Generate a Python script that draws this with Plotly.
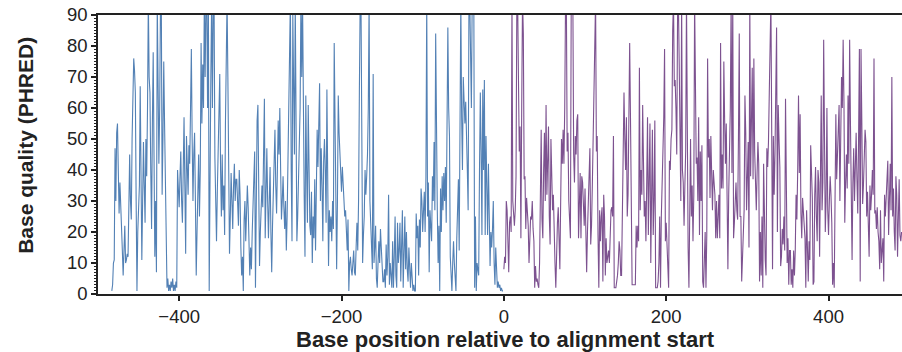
import plotly.graph_objects as go

# Base positions start values (relative to alignment start)
blue_start = -483
purple_start = 0

# PHRED base quality, upstream (blue) segment, one value per base from -483 to -1
blue_quality = [
    1, 3, 10, 11, 47, 30, 52, 55, 40, 26, 36, 30, 20, 14, 6, 18, 22, 10, 11, 13,
    12, 28, 45, 30, 24, 50, 70, 76, 72, 65, 30, 1, 20, 27, 35, 67, 40, 11, 30, 49,
    35, 23, 50, 38, 60, 95, 70, 65, 40, 21, 55, 78, 45, 12, 30, 7, 95, 60, 42, 60,
    95, 95, 32, 50, 75, 55, 38, 9, 2, 5, 1, 3, 1, 4, 2, 5, 1, 3, 1, 4,
    2, 40, 30, 28, 38, 46, 30, 23, 40, 57, 35, 13, 51, 40, 32, 48, 42, 60, 79, 50,
    30, 45, 52, 30, 6, 20, 36, 45, 25, 40, 81, 55, 74, 60, 95, 70, 95, 95, 60, 95,
    1, 51, 70, 95, 60, 95, 95, 44, 30, 17, 33, 47, 55, 71, 40, 25, 45, 27, 35, 19,
    55, 83, 95, 70, 45, 13, 25, 39, 30, 21, 35, 42, 30, 37, 37, 28, 22, 40, 32, 15,
    6, 12, 1, 24, 30, 17, 25, 35, 28, 19, 6, 15, 8, 20, 30, 38, 46, 2, 35, 56,
    61, 40, 9, 20, 27, 35, 28, 45, 63, 18, 30, 47, 30, 18, 30, 41, 20, 7, 22, 35,
    45, 53, 35, 26, 40, 56, 45, 60, 40, 24, 30, 38, 28, 21, 30, 14, 25, 44, 60, 85,
    95, 40, 17, 90, 60, 45, 95, 30, 17, 25, 38, 50, 60, 95, 70, 95, 47, 32, 12, 64,
    40, 23, 61, 35, 22, 19, 33, 10, 25, 18, 37, 14, 30, 53, 41, 55, 68, 30, 47, 35,
    17, 43, 50, 40, 23, 66, 30, 9, 27, 20, 25, 17, 30, 21, 81, 60, 43, 8, 30, 64,
    52, 45, 40, 33, 41, 36, 30, 25, 27, 20, 14, 24, 1, 10, 12, 8, 6, 10, 14, 7,
    6, 15, 23, 14, 30, 65, 95, 95, 17, 10, 19, 25, 40, 32, 38, 45, 60, 95, 30, 20,
    15, 8, 71, 10, 15, 22, 5, 2, 10, 17, 10, 21, 15, 10, 4, 4, 8, 2, 16, 6,
    12, 32, 3, 10, 5, 2, 17, 2, 12, 25, 6, 2, 23, 10, 14, 23, 4, 12, 27, 2,
    10, 25, 8, 20, 8, 4, 15, 6, 2, 10, 2, 1, 3, 1, 1, 26, 18, 22, 6, 24,
    15, 34, 30, 20, 27, 33, 20, 38, 95, 25, 36, 7, 27, 20, 17, 38, 30, 49, 27, 84,
    40, 27, 10, 22, 1, 34, 20, 38, 27, 39, 30, 41, 23, 72, 86, 60, 51, 12, 5, 1,
    10, 17, 10, 6, 1, 18, 25, 37, 14, 62, 95, 57, 40, 70, 60, 55, 62, 54, 40, 27,
    95, 95, 80, 60, 95, 95, 95, 2, 25, 1, 10, 8, 6, 40, 65, 46, 19, 66, 40, 69,
    19, 51, 30, 19, 42, 30, 9, 20, 15, 21, 30, 10, 3, 15, 8, 2, 4, 2, 3, 1,
    2, 1, 1,
]

# PHRED base quality, downstream (purple) segment, one value per base from 0 to 490
purple_quality = [
    8, 12, 10, 30, 27, 15, 7, 23, 25, 20, 95, 30, 23, 22, 27, 38, 95, 95, 69, 46,
    54, 18, 60, 95, 84, 37, 38, 21, 31, 25, 22, 10, 17, 25, 24, 30, 21, 17, 2, 9,
    4, 5, 3, 2, 10, 25, 53, 24, 18, 40, 52, 30, 61, 32, 45, 54, 25, 16, 50, 35,
    27, 32, 17, 10, 2, 15, 23, 28, 18, 8, 30, 50, 42, 53, 42, 60, 95, 95, 46, 52,
    30, 19, 18, 95, 95, 95, 45, 36, 51, 45, 56, 58, 18, 30, 39, 18, 38, 36, 30, 22,
    34, 18, 7, 20, 32, 46, 47, 16, 22, 35, 51, 65, 80, 95, 46, 51, 19, 2, 27, 17,
    25, 28, 4, 32, 25, 6, 18, 10, 12, 14, 10, 20, 27, 28, 25, 51, 2, 2, 2, 4,
    6, 10, 17, 14, 6, 6, 24, 38, 65, 50, 40, 57, 25, 32, 50, 81, 57, 8, 3, 3,
    3, 3, 3, 22, 15, 22, 17, 73, 27, 40, 32, 61, 40, 25, 30, 17, 36, 57, 19, 40,
    55, 10, 32, 53, 19, 30, 56, 2, 2, 2, 4, 10, 25, 2, 25, 34, 45, 57, 79, 17,
    23, 15, 8, 2, 43, 40, 50, 53, 85, 95, 67, 69, 60, 45, 90, 95, 75, 56, 30, 95,
    40, 36, 22, 35, 46, 95, 27, 15, 2, 39, 50, 25, 35, 17, 32, 95, 47, 42, 44, 30,
    57, 19, 46, 30, 48, 4, 2, 12, 20, 2, 19, 76, 44, 50, 31, 51, 31, 27, 40, 33,
    32, 18, 30, 18, 25, 32, 18, 81, 34, 45, 34, 75, 56, 42, 55, 30, 8, 32, 44, 60,
    95, 39, 95, 18, 23, 30, 36, 27, 24, 50, 84, 25, 25, 4, 15, 26, 27, 64, 52, 27,
    35, 49, 15, 95, 38, 60, 73, 37, 76, 46, 35, 27, 39, 49, 42, 4, 20, 6, 25, 2,
    42, 20, 11, 6, 47, 41, 49, 65, 79, 95, 52, 8, 51, 32, 45, 60, 86, 20, 61, 50,
    41, 9, 12, 21, 16, 25, 14, 63, 21, 10, 18, 3, 14, 14, 3, 8, 2, 14, 6, 14,
    32, 24, 40, 64, 39, 58, 26, 18, 31, 26, 22, 18, 2, 27, 15, 4, 17, 11, 48, 40,
    31, 3, 4, 32, 41, 25, 17, 40, 36, 12, 45, 64, 27, 36, 82, 50, 20, 30, 60, 27,
    19, 30, 38, 32, 23, 3, 10, 2, 25, 58, 37, 45, 60, 61, 30, 54, 70, 60, 82, 62,
    23, 36, 45, 34, 64, 42, 82, 55, 26, 11, 36, 47, 30, 40, 52, 37, 26, 50, 79, 4,
    79, 56, 29, 35, 44, 53, 49, 25, 33, 20, 12, 35, 27, 32, 40, 32, 76, 26, 27, 21,
    28, 20, 17, 8, 27, 10, 15, 18, 4, 32, 25, 30, 36, 43, 19, 30, 42, 27, 70, 25,
    34, 20, 14, 38, 32, 12, 25, 37, 19, 17, 20,
]

x_ticks = [-400, -200, 0, 200, 400]
y_ticks = [0, 10, 20, 30, 40, 50, 60, 70, 80, 90]
x_title = "Base position relative to alignment start"
y_title = "Base quality (PHRED)"

blue_x = list(range(blue_start, blue_start + len(blue_quality)))
purple_x = list(range(purple_start, purple_start + len(purple_quality)))

FONT = "Liberation Sans, Arial, Helvetica, sans-serif"
AX = "#222222"

fig = go.Figure()
fig.add_trace(go.Scatter(x=blue_x, y=blue_quality, mode="lines",
                         line=dict(color="#5381b5", width=1.1), showlegend=False))
fig.add_trace(go.Scatter(x=purple_x, y=purple_quality, mode="lines",
                         line=dict(color="#7d5290", width=1.1), showlegend=False))

fig.update_layout(
    width=902, height=352,
    margin=dict(l=98, r=0, t=15, b=58),
    paper_bgcolor="white", plot_bgcolor="white",
    font=dict(family=FONT, size=18, color=AX),
    xaxis=dict(
        range=[-500, 490.5], tickvals=x_ticks, ticks="outside", ticklen=5,
        tickwidth=1.5, tickcolor=AX, showline=True, linecolor=AX, linewidth=1.5,
        mirror=True, showgrid=False, zeroline=False,
        tickfont=dict(family=FONT, size=18.5, color=AX),
    ),
    yaxis=dict(
        range=[0, 90], tickvals=y_ticks, ticks="outside", ticklen=5,
        tickwidth=1.5, tickcolor=AX, showline=True, linecolor=AX, linewidth=1.5,
        showgrid=False, zeroline=False,
        tickfont=dict(family=FONT, size=18.5, color=AX),
        minor=dict(dtick=1, ticks="outside", ticklen=2.5, tickwidth=1, tickcolor=AX,
                   showgrid=False),
    ),
    annotations=[
        dict(text="<b>%s</b>" % x_title, xref="paper", yref="paper",
             x=0.507, y=-0.162, xanchor="center", yanchor="middle",
             showarrow=False, font=dict(family=FONT, size=22, color=AX)),
        dict(text="<b>%s</b>" % y_title, xref="paper", yref="paper",
             x=-0.091, y=0.534, xanchor="center", yanchor="middle", textangle=-90,
             showarrow=False, font=dict(family=FONT, size=21, color=AX)),
    ],
)

fig.write_html("out.html")
